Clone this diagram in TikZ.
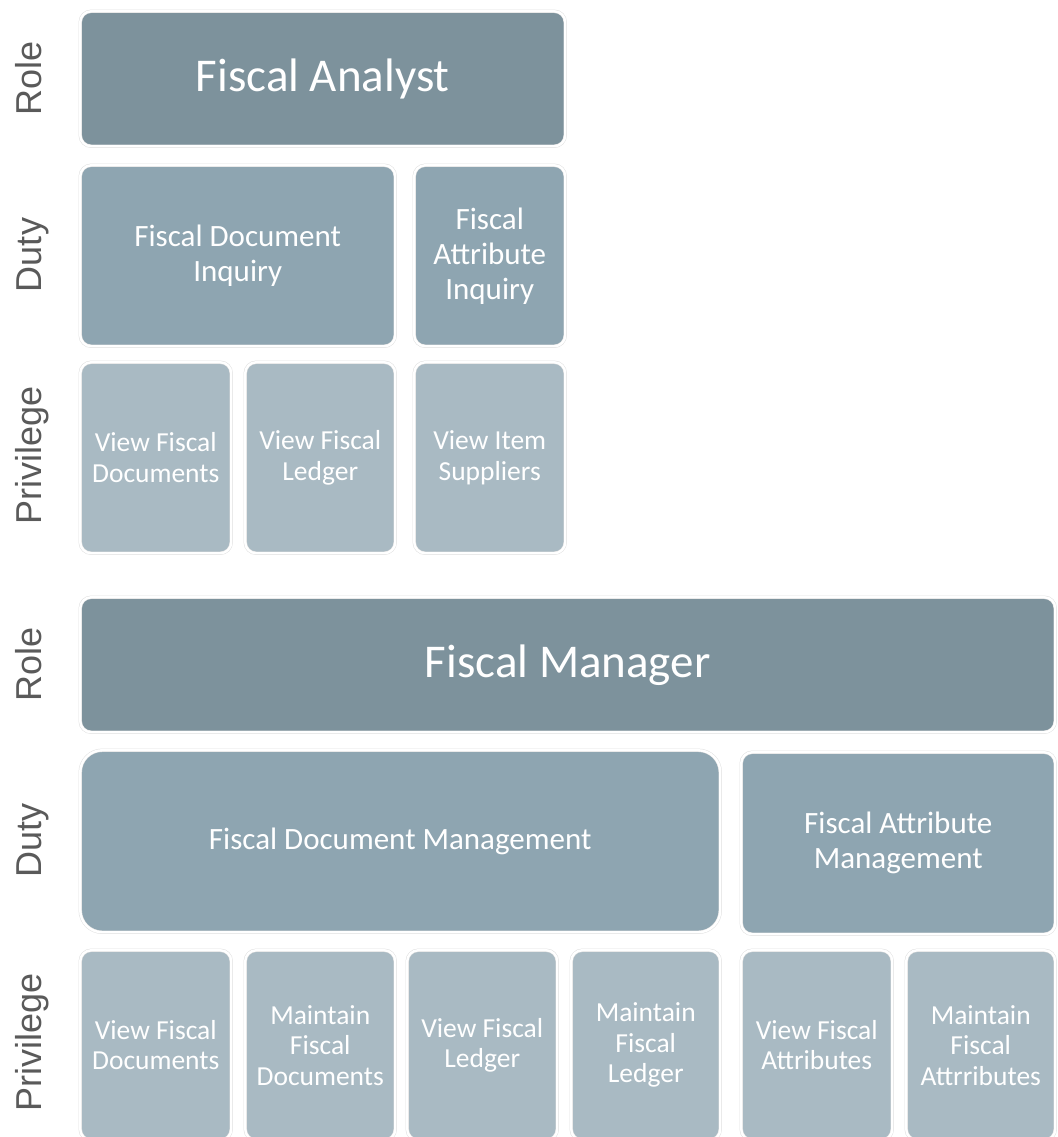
\documentclass[tikz,border=0pt]{standalone}
\usepackage{fontspec}
\setmainfont{Carlito}
\newfontfamily\sidefont{Liberation Sans}
\usepackage{tikz}

\definecolor{rolefill}{HTML}{7D929C}
\definecolor{dutyfill}{HTML}{8EA5B1}
\definecolor{privfill}{HTML}{A9BAC3}
\definecolor{labelgray}{HTML}{5A5A5A}

\tikzset{
   box/.style={
      draw=black!12,
      double=white,
      double distance=2.4pt,
      line width=0.5pt,
      rounded corners=11pt,
      anchor=north west,
      inner sep=0pt,
      align=center,
      text=white
   },
   rolebox/.style={box, fill=rolefill, font=\fontsize{47}{52}\selectfont},
   dutybox/.style={box, fill=dutyfill, font=\fontsize{31}{35}\selectfont},
   privbox/.style={box, fill=privfill, font=\fontsize{27.5}{30.5}\selectfont},
   sidelabel/.style={rotate=90, anchor=base, text=labelgray,
      font=\sidefont\fontsize{36}{40}\selectfont}
}

\begin{document}
\begin{tikzpicture}[x=1pt, y=-1pt]
   \useasboundingbox (0,0) rectangle (1057,1137);

   % fiscal analyst
   \node[sidelabel] (roleA) at (41,78) {Role};
   \node[sidelabel] (dutyA) at (41,255) {Duty};
   \node[sidelabel] (privA) at (41,455) {Privilege};

   \node[rolebox, minimum width=485pt, minimum height=135pt] (analyst) at (80,11) {Fiscal Analyst};

   \node[dutybox, minimum width=315pt, minimum height=181pt] (docinq) at (80,165) {Fiscal Document\\Inquiry};
   \node[dutybox, minimum width=151pt, minimum height=181pt] (attinq) at (414,165) {Fiscal\\Attribute\\Inquiry};

   \node[privbox, minimum width=151pt, minimum height=191pt] (viewdocA) at (80,362) {View Fiscal\\Documents};
   \node[privbox, minimum width=150pt, minimum height=191pt] (viewledA) at (245,362) {View Fiscal\\Ledger};
   \node[privbox, minimum width=151pt, minimum height=191pt] (viewsup) at (414,362) {View Item\\Suppliers};

   % fiscal manager
   \node[sidelabel] (roleM) at (41,664) {Role};
   \node[sidelabel] (dutyM) at (41,840) {Duty};
   \node[sidelabel] (privM) at (41,1042) {Privilege};

   \node[rolebox, minimum width=975pt, minimum height=135pt] (manager) at (80,597) {Fiscal Manager};

   \node[dutybox, rounded corners=22pt, minimum width=640pt, minimum height=182pt] (docmgmt) at (80,750) {Fiscal Document Management};
   \node[dutybox, minimum width=314pt, minimum height=182pt] (attmgmt) at (741,752) {Fiscal Attribute\\Management};

   \node[privbox, minimum width=151pt, minimum height=190pt] (viewdocM) at (80,950) {View Fiscal\\Documents};
   \node[privbox, minimum width=150pt, minimum height=190pt] (maintdoc) at (245,950) {Maintain\\Fiscal\\Documents};
   \node[privbox, minimum width=150pt, minimum height=190pt] (viewledM) at (407,950) {View Fiscal\\Ledger};
   \node[privbox, minimum width=149pt, minimum height=190pt] (maintled) at (571,950) {Maintain\\Fiscal\\Ledger};
   \node[privbox, minimum width=151pt, minimum height=190pt] (viewatt) at (741,950) {View Fiscal\\Attributes};
   \node[privbox, minimum width=149pt, minimum height=190pt] (maintatt) at (906,950) {Maintain\\Fiscal\\Attrributes};

\end{tikzpicture}
\end{document}
